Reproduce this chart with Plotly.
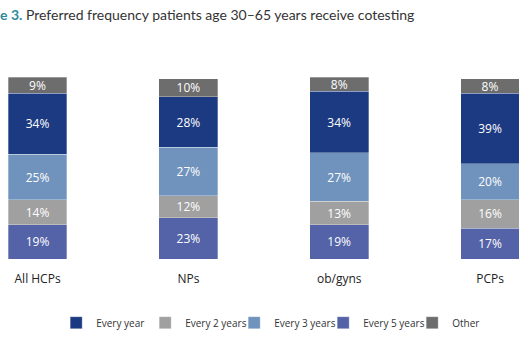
import plotly.graph_objects as go

categories = ["All HCPs", "NPs", "ob/gyns", "PCPs"]
every_year = [34, 28, 34, 39]
every_2_years = [14, 12, 13, 16]
every_3_years = [25, 27, 27, 20]
every_5_years = [19, 23, 19, 17]
other = [9, 10, 8, 8]

# stacking order bottom -> top, with legend rank
series = [
    ("Every 5 years", every_5_years, "#5463a8", 4),
    ("Every 2 years", every_2_years, "#a0a0a0", 2),
    ("Every 3 years", every_3_years, "#6f93bc", 3),
    ("Every year", every_year, "#1c3a82", 1),
    ("Other", other, "#6d6d6d", 5),
]

fig = go.Figure()
for name, vals, color, rank in series:
    fig.add_trace(go.Bar(
        x=categories, y=vals, name=name,
        marker=dict(color=color, line=dict(color="rgba(255,255,255,0.6)", width=0.5)),
        text=[f"{v}%" for v in vals],
        textposition="inside", insidetextanchor="middle", textangle=0,
        textfont=dict(color="white", size=12, family="Open Sans"),
        legendrank=rank, width=0.39,
    ))

fig.update_layout(
    barmode="stack",
    width=530, height=342,
    margin=dict(l=0, r=0, t=77, b=83),
    plot_bgcolor="white", paper_bgcolor="white",
    uniformtext=dict(minsize=12, mode="show"),
    showlegend=True,
    legend=dict(orientation="h", x=0.106, xanchor="left", y=-0.35, yanchor="middle",
                font=dict(family="Open Sans", size=10, color="#333"),
                entrywidth=44, entrywidthmode="pixels", traceorder="normal"),
    title=dict(
        text="<span style='color:#2e8a9c'><b>e 3.</b></span> Preferred frequency patients age 30–65 years receive cotesting",
        x=0, xref="container", xanchor="left", y=0.955, yanchor="middle",
        font=dict(family="Lato", size=14, color="#333"),
    ),
)
fig.update_xaxes(range=[-0.249, 3.265], showgrid=False, showline=False, zeroline=False,
                 ticks="outside", ticklen=9, tickcolor="rgba(0,0,0,0)",
                 tickfont=dict(family="Open Sans", size=12, color="#222"))
fig.update_yaxes(range=[0, 101], visible=False)

fig.write_html("out.html")
